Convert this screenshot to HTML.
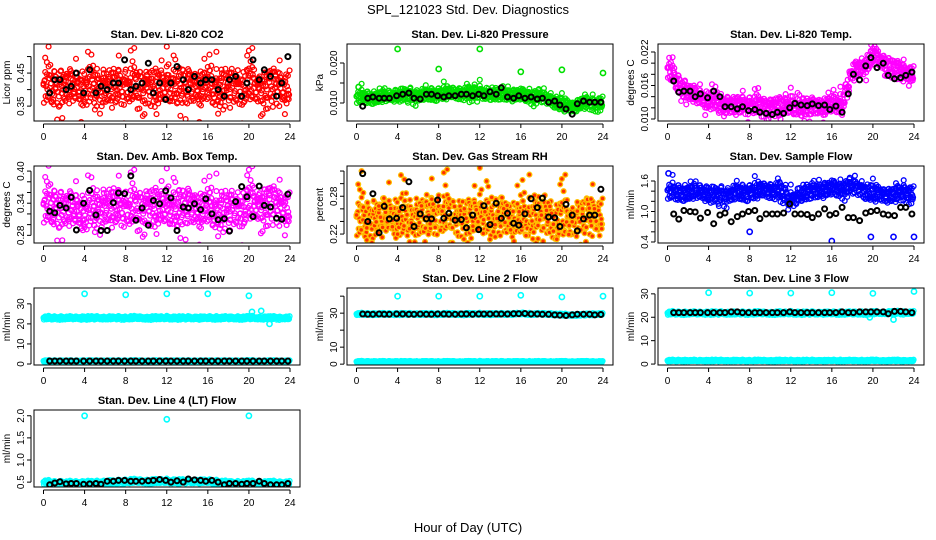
<!DOCTYPE html>
<html><head><meta charset="utf-8"><style>
body{margin:0;background:#fff;}
svg{display:block;font-family:"Liberation Sans",sans-serif;}
</style></head><body>
<svg id="chart" width="936" height="540" viewBox="0 0 936 540">
<text x="468" y="14" text-anchor="middle" font-size="13">SPL_121023  Std. Dev. Diagnostics</text>
<text x="468" y="532" text-anchor="middle" font-size="13">Hour of Day (UTC)</text>
</svg>
<script>
// shared data
const xTicks = [0,4,8,12,16,20,24];
const jit = [0.1,-0.8,0.5,-0.3,0.9,-0.6,0.2,-1.0,0.7,-0.1,0.4,-0.5,1.0,-0.9,0.3,-0.2,0.6,-0.7,0.0,0.8,-0.4,0.45,-0.65,0.15];
const blackT = [0.6,1.1,1.6,2.2,2.7,3.2,3.9,4.5,5.1,5.6,6.2,6.8,7.3,7.9,8.5,9.0,9.6,10.2,10.7,11.3,11.9,12.4,13.0,13.6,14.1,14.7,15.3,15.8,16.4,17.0,17.6,18.1,18.7,19.3,19.8,20.4,21.0,21.5,22.1,22.7,23.2,23.8];

const co2Mean = [0.41,0.41,0.41,0.41,0.41,0.41,0.41,0.41,0.41,0.41,0.41,0.41,0.41,0.42,0.41,0.41,0.41,0.41,0.41,0.41,0.41,0.41,0.41,0.41,0.41];
const co2Black = [0.39,0.43,0.43,0.40,0.41,0.45,0.39,0.46,0.39,0.41,0.40,0.42,0.42,0.49,0.40,0.41,0.42,0.48,0.39,0.42,0.37,0.42,0.47,0.43,0.40,0.44,0.42,0.43,0.43,0.40,0.38,0.43,0.44,0.38,0.42,0.49,0.43,0.46,0.44,0.38,0.42,0.50];
const presMean = [0.0115,0.0115,0.0115,0.0118,0.012,0.012,0.012,0.0122,0.0123,0.0125,0.0125,0.0125,0.0125,0.0125,0.0123,0.012,0.012,0.012,0.0115,0.011,0.0095,0.0092,0.0098,0.01,0.0102];
const presBlack = [0.0092,0.0112,0.0115,0.0112,0.0112,0.0112,0.0118,0.0122,0.0125,0.0112,0.011,0.0122,0.0122,0.0118,0.0115,0.0118,0.0118,0.0122,0.0122,0.0118,0.0122,0.0118,0.0128,0.0122,0.0138,0.0115,0.0112,0.0118,0.0112,0.0115,0.011,0.0112,0.0102,0.0105,0.0095,0.0085,0.0072,0.0098,0.0105,0.0102,0.0102,0.0102];
const presOut = [[0.2,0.014],[4,0.0235],[8,0.0185],[12,0.0235],[16,0.0178],[20,0.0183],[24,0.0175]];
const tempMean = [0.019,0.0165,0.015,0.014,0.0135,0.013,0.0125,0.0125,0.0125,0.0123,0.0123,0.0123,0.0123,0.0123,0.0123,0.0123,0.0125,0.013,0.0185,0.0195,0.021,0.0205,0.019,0.0185,0.018];
const tempBlack = [0.0168,0.0148,0.0150,0.0150,0.0140,0.0145,0.0138,0.0150,0.0140,0.0122,0.0122,0.0118,0.0122,0.0115,0.0117,0.0112,0.0110,0.0108,0.0112,0.0110,0.0120,0.0128,0.0125,0.0124,0.0127,0.0124,0.0125,0.0117,0.0123,0.0112,0.0145,0.0180,0.0170,0.0195,0.0210,0.0192,0.0200,0.0178,0.0172,0.0174,0.0178,0.0184];
const ambMean = [0.335,0.335,0.33,0.33,0.325,0.33,0.335,0.335,0.33,0.33,0.335,0.335,0.33,0.335,0.335,0.33,0.33,0.33,0.33,0.33,0.335,0.34,0.34,0.335,0.33];
const ambBlack = [0.325,0.322,0.336,0.331,0.351,0.29,0.34,0.364,0.318,0.289,0.289,0.341,0.359,0.358,0.391,0.308,0.331,0.299,0.345,0.339,0.363,0.35,0.289,0.333,0.331,0.339,0.328,0.348,0.32,0.309,0.311,0.288,0.343,0.371,0.352,0.315,0.372,0.336,0.333,0.312,0.31,0.357];
const rhMean = [0.245,0.245,0.245,0.25,0.25,0.245,0.245,0.25,0.25,0.25,0.245,0.245,0.25,0.25,0.25,0.245,0.245,0.25,0.25,0.245,0.24,0.245,0.245,0.25,0.25];
const rhBlack = [0.316,0.24,0.284,0.222,0.264,0.244,0.245,0.262,0.303,0.232,0.252,0.244,0.244,0.274,0.245,0.253,0.242,0.243,0.23,0.25,0.227,0.265,0.235,0.269,0.245,0.253,0.237,0.234,0.252,0.276,0.262,0.277,0.247,0.246,0.232,0.267,0.25,0.225,0.244,0.25,0.25,0.291];
const flowMean = [1.4,1.38,1.38,1.4,1.35,1.3,1.35,1.38,1.38,1.42,1.42,1.42,1.2,1.38,1.4,1.42,1.45,1.48,1.48,1.45,1.35,1.35,1.3,1.4,1.35];
const flowBlack = [0.95,0.85,1.02,1.0,0.99,0.87,0.98,0.76,0.93,0.97,0.8,0.9,0.95,1.0,1.02,0.86,0.95,0.95,0.95,0.97,1.15,0.95,0.95,0.94,0.88,0.95,1.05,0.93,0.96,1.08,0.88,0.88,0.82,0.97,1.0,1.02,0.95,0.93,0.92,1.08,1.08,0.95];
const flowOut = [[0.1,1.75],[8,0.6],[16,0.42],[19.8,0.5],[22,0.5],[24,0.5]];
const l1Mean = [23,23,23,23,23,23,23,23,23,23,23,23,23,23,23,23,23,23,23,23,23,23,23,23,23];
const l1Low = [1.5,1.5,1.5,1.5,1.5,1.5,1.5,1.5,1.5,1.5,1.5,1.5,1.5,1.5,1.5,1.5,1.5,1.5,1.5,1.5,1.5,1.5,1.5,1.5,1.5];
const l1Black = [1.5,1.5,1.5,1.5,1.5,1.5,1.5,1.5,1.5,1.5,1.5,1.5,1.5,1.5,1.5,1.5,1.5,1.5,1.5,1.5,1.5,1.5,1.5,1.5,1.5,1.5,1.5,1.5,1.5,1.5,1.5,1.5,1.5,1.5,1.5,1.5,1.5,1.5,1.5,1.5,1.5,1.5];
const l1Out = [[4,35],[8,34.5],[12,35],[16,35],[20,34],[20.3,26],[21.2,26.5],[22,20]];
const l2Mean = [29.5,29.5,29.5,29.5,29.5,29.5,29.5,29.5,29.5,29.5,29.5,29.5,29.5,29.5,29.5,29.5,29.8,29.5,29.5,29.5,29,29,29,29.5,29.5];
const l2Black = [29.5,29.3,29.3,29.5,29.3,29.3,29.5,29.5,29.3,29.3,29.5,29.3,29.3,29.5,29.5,29.3,29.3,29.5,29.5,29.3,29.5,29.5,29.5,29.5,29.5,29.5,29.7,29.7,29.8,29.5,29.5,29.3,29.3,29,28.8,28.6,29,29.3,29.3,29.3,29,29.2];
const l2Out = [[4,40],[8,40],[12,40],[16,40.5],[20,39.5],[24,40]];
const l3Mean = [21.8,21.8,21.8,21.8,21.8,21.8,21.8,21.8,21.8,21.8,21.8,21.8,21.8,21.8,21.8,21.8,21.8,21.8,21.8,21.8,21.8,22,22,22,22];
const l3Black = [22,22,22,22,22,22,22,22,22,22,22.3,22.3,22,22,22,22,22,22,22,22,22.3,22,22,22,22,22,22,22,22,22.3,22,22,22.3,22.3,22.3,22.3,22.3,21.5,22.5,22.5,22.3,22];
const l3Out = [[4,30.5],[8,30.3],[12,30.3],[16,30.5],[20,30.2],[24,31],[19.7,20],[22,19]];
const l4Mean = [0.5,0.48,0.48,0.48,0.48,0.48,0.5,0.5,0.52,0.52,0.52,0.52,0.52,0.52,0.52,0.52,0.52,0.5,0.48,0.48,0.48,0.48,0.48,0.48,0.48];
const l4Black = [0.44,0.48,0.51,0.46,0.47,0.47,0.45,0.46,0.47,0.45,0.52,0.52,0.54,0.54,0.52,0.52,0.52,0.53,0.54,0.56,0.54,0.5,0.53,0.5,0.57,0.55,0.54,0.52,0.54,0.5,0.44,0.47,0.47,0.45,0.47,0.47,0.52,0.47,0.44,0.44,0.44,0.47];
const l4Out = [[4,2.0],[12,1.92],[20,2.0]];

const svg = document.getElementById('chart');
const NS = 'http://www.w3.org/2000/svg';
function mk(tag, attrs, parent){const e=document.createElementNS(NS,tag);for(const k in attrs)e.setAttribute(k,attrs[k]);(parent||svg).appendChild(e);return e;}

function panel(cfg){
  const L=cfg.left, T=cfg.top, W=266, H=77;
  const g = mk('g',{});
  
  
  const xs = h => L+9.5+h*(246.5/24);
  const ys = v => T+H-(v-cfg.ymin)/(cfg.ymax-cfg.ymin)*H;
  const title = mk('text',{x:L+W/2,y:T-6,'text-anchor':'middle','font-size':11,'font-weight':'bold'},g);
  title.textContent = cfg.title;
  
  
  const cid='c'+cfg.name;
  const cp=mk('clipPath',{id:cid},g); mk('rect',{x:L,y:T,width:W,height:H},cp);
  const pts = mk('g',{'clip-path':'url(#'+cid+')'},g);
  function dot(h,v,stroke,fill,sw,r){mk('circle',{cx:xs(h).toFixed(1),cy:ys(v).toFixed(1),r:r||2.4,fill:fill||'none',stroke:stroke,'stroke-width':sw||1.3},pts);}
  function cloud(means,spread,stroke,fill,step){
    step=step||1;
    for(let h=0;h<24;h++){
      for(let j=0;j<24;j+=step){
        const f=j/24, m=means[h]*(1-f)+means[h+1]*f;
        dot(h+f, m+spread*jit[(j*7+h*5)%24]*(1+0.5*Math.abs(jit[(j*11+h*3)%24])), stroke, fill);
      }
    }
  }
  cfg.clouds.forEach(c=>cloud(c[0],c[1],cfg.color,cfg.fill,c[2]));
  (cfg.out||[]).forEach(p=>dot(p[0],p[1],cfg.color,'none',1.6,2.6));
  cfg.black.forEach((v,i)=>dot(blackT[i],v,'#000','none',2,2.5));
  const box=mk('rect',{x:L,y:T,width:W,height:H,fill:'none',stroke:'#000','stroke-width':1},g);
  
  
  mk('line',{x1:xs(0),x2:xs(24),y1:T+H+3,y2:T+H+3,stroke:'#000'},g);
  xTicks.forEach(t=>{
    mk('line',{x1:xs(t),x2:xs(t),y1:T+H+3,y2:T+H+7,stroke:'#000'},g);
    const tx=mk('text',{x:xs(t),y:T+H+19,'text-anchor':'middle','font-size':10},g);
    tx.textContent=t;
    
    
  });
  const yt=cfg.yticks;
  mk('line',{x1:L-3,x2:L-3,y1:ys(yt[0]),y2:ys(yt[yt.length-1]),stroke:'#000'},g);
  yt.forEach(t=>{
    mk('line',{x1:L-7,x2:L-3,y1:ys(t),y2:ys(t),stroke:'#000'},g);
  });
  cfg.ylabels.forEach(t=>{
    const y=ys(t), x=L-10;
    const tx=mk('text',{x:x,y:y,'text-anchor':'middle','font-size':10,transform:'rotate(-90 '+x+' '+y+')'},g);
    tx.textContent=cfg.fmt(t);
    
    
  });
  const yl=mk('text',{x:L-24,y:T+H/2,'text-anchor':'middle','font-size':10,transform:'rotate(-90 '+(L-24)+' '+(T+H/2)+')'},g);
  yl.textContent=cfg.ylab;
  
  
}
const f2=v=>v.toFixed(2), f3=v=>v.toFixed(3), f1=v=>v.toFixed(1), f0=v=>String(v);
const C=[34,347,658], R=[44,166,288,410];
panel({name:'panel-co2',title:'Stan. Dev. Li-820 CO2',left:C[0],top:R[0],ymin:0.305,ymax:0.538,yticks:[0.35,0.40,0.45,0.50],ylabels:[0.35,0.45],fmt:f2,ylab:'Licor ppm',color:'#ff0000',clouds:[[co2Mean,0.04],[co2Mean,0.08,4]],black:co2Black});
panel({name:'panel-pressure',title:'Stan. Dev. Li-820 Pressure',left:C[1],top:R[0],ymin:0.0055,ymax:0.02475,yticks:[0.010,0.015,0.020],ylabels:[0.010,0.020],fmt:f3,ylab:'kPa',color:'#00e000',clouds:[[presMean,0.0012],[presMean,0.0022,6]],out:presOut,black:presBlack});
panel({name:'panel-temp',title:'Stan. Dev. Li-820 Temp.',left:C[2],top:R[0],ymin:0.00964,ymax:0.02343,yticks:[0.010,0.012,0.014,0.016,0.018,0.020,0.022],ylabels:[0.010,0.016,0.022],fmt:f3,ylab:'degrees C',color:'#ff00ff',clouds:[[tempMean,0.0012],[tempMean,0.0022,4]],black:tempBlack});
panel({name:'panel-amb-temp',title:'Stan. Dev. Amb. Box Temp.',left:C[0],top:R[1],ymin:0.2657,ymax:0.4095,yticks:[0.28,0.30,0.32,0.34,0.36,0.38,0.40],ylabels:[0.28,0.34,0.40],fmt:f2,ylab:'degrees C',color:'#ff00ff',clouds:[[ambMean,0.025],[ambMean,0.05,4]],black:ambBlack});
panel({name:'panel-rh',title:'Stan. Dev. Gas Stream RH',left:C[1],top:R[1],ymin:0.2058,ymax:0.328,yticks:[0.22,0.24,0.26,0.28,0.30,0.32],ylabels:[0.22,0.28],fmt:f2,ylab:'percent',color:'#ffc000',fill:'#ff3000',clouds:[[rhMean,0.022],[rhMean,0.05,4]],black:rhBlack});
panel({name:'panel-sample-flow',title:'Stan. Dev. Sample Flow',left:C[2],top:R[1],ymin:0.38,ymax:1.895,yticks:[0.4,0.6,0.8,1.0,1.2,1.4,1.6],ylabels:[0.4,1.0,1.6],fmt:f1,ylab:'ml/min',color:'#0000ff',clouds:[[flowMean,0.12],[flowMean,0.22,6]],out:flowOut,black:flowBlack});
panel({name:'panel-line1',title:'Stan. Dev. Line 1 Flow',left:C[0],top:R[2],ymin:-0.5,ymax:37.9,yticks:[0,10,20,30],ylabels:[0,10,20,30],fmt:f0,ylab:'ml/min',color:'#00ffff',clouds:[[l1Mean,0.7],[l1Low,0.3]],out:l1Out,black:l1Black});
panel({name:'panel-line2',title:'Stan. Dev. Line 2 Flow',left:C[1],top:R[2],ymin:-0.5,ymax:44.8,yticks:[0,10,20,30,40],ylabels:[0,10,30],fmt:f0,ylab:'ml/min',color:'#00ffff',clouds:[[l2Mean,0.5],[l1Low,0.3]],out:l2Out,black:l2Black});
panel({name:'panel-line3',title:'Stan. Dev. Line 3 Flow',left:C[2],top:R[2],ymin:-0.4,ymax:32.5,yticks:[0,10,20,30],ylabels:[0,10,20,30],fmt:f0,ylab:'ml/min',color:'#00ffff',clouds:[[l3Mean,0.6],[l1Low,0.3]],out:l3Out,black:l3Black});
panel({name:'panel-line4',title:'Stan. Dev. Line 4 (LT) Flow',left:C[0],top:R[3],ymin:0.39,ymax:2.13,yticks:[0.5,1.0,1.5,2.0],ylabels:[0.5,1.0,1.5,2.0],fmt:f1,ylab:'ml/min',color:'#00ffff',clouds:[[l4Mean,0.04]],out:l4Out,black:l4Black});
</script>
</body></html>
